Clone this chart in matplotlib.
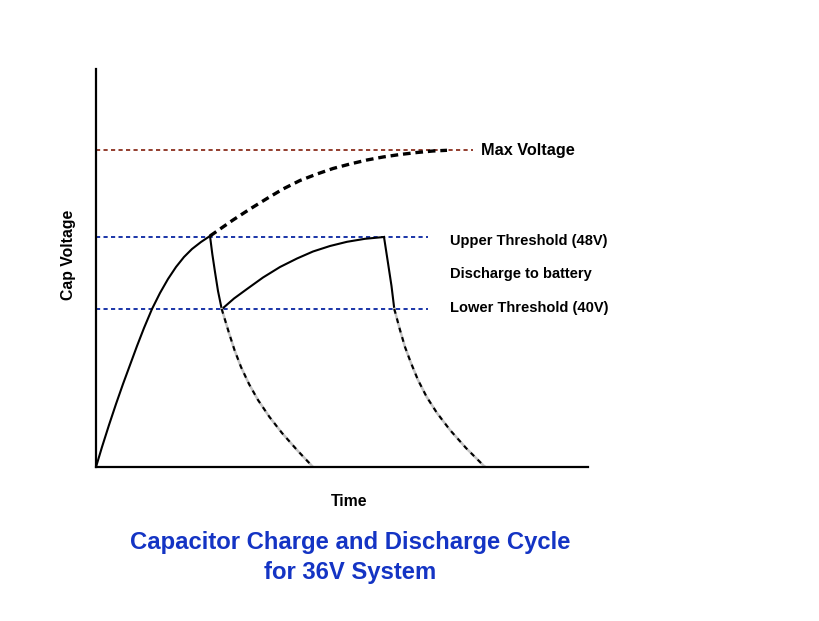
import matplotlib
matplotlib.use("Agg")
from matplotlib import pyplot as plt

plt.rcParams['font.family'] = ['Liberation Sans', 'DejaVu Sans']
plt.rcParams['lines.scale_dashes'] = False

# values (arbitrary units, time / cap voltage)
charge_t = [0, 6, 13, 20, 27, 34, 41, 48, 56, 64, 72, 80, 88, 96, 105, 114]
charge_v = [0, 20, 42, 63, 83, 102, 121, 139, 158, 174, 188, 200, 210, 218, 225, 231]

to_max_t = [114, 137, 154, 171, 187, 204, 221, 237, 254, 271, 287, 304, 321, 337, 351]
to_max_v = [231, 247, 258, 268.5, 278, 286.5, 293, 298.5, 303, 307, 310, 312.5, 314.5, 316, 316.7]

recharge_t = [126, 138, 151, 167, 184, 201, 217, 234, 251, 269, 288]
recharge_v = [158, 168.5, 178, 189.5, 200, 208.5, 215.5, 221, 225.2, 228.2, 230]

drop1_t = [114, 116.3, 119, 122, 125.7]
drop1_v = [231, 213, 195, 176, 158]
tail1_t = [125.7, 133, 138.5, 145, 153, 162, 173.5, 186, 201, 217]
tail1_v = [158, 134, 117, 100, 83, 67, 50, 34, 17, 0]

drop2_t = [288, 290, 292, 295.5, 298.3]
drop2_v = [230, 217, 204, 181, 158]
tail2_t = [298.3, 304, 309, 315, 322, 330.7, 341, 354, 370, 389]
tail2_v = [158, 137, 120, 104, 87, 70, 54, 37, 19, 0]

max_v = 317
upper_v = 230
lower_v = 158

W, H = 820, 621
fig = plt.figure(figsize=(W / 100, H / 100), dpi=100)
ax = fig.add_axes([96 / W, (H - 467) / H, (588 - 96) / W, (467 - 69) / H])
ax.set_xlim(0, 492)
ax.set_ylim(0, 398)

# reference lines
ax.plot([0, 377], [max_v, max_v], color='#8a2e1e', lw=1.3, dashes=(3, 2.4))
ax.plot([0, 332], [upper_v, upper_v], color='#1a35a8', lw=1.4, dashes=(3, 2.4))
ax.plot([0, 332], [lower_v, lower_v], color='#1a35a8', lw=1.4, dashes=(3, 2.4))

# charge curve
ax.plot(charge_t, charge_v, color='black', lw=1.5, solid_joinstyle='round')
ax.plot(to_max_t, to_max_v, color='black', lw=2.4, dashes=(5.5, 3.5))

# recharge between thresholds
ax.plot(recharge_t, recharge_v, color='black', lw=1.5, solid_joinstyle='round')

# discharge curves
for dt, dv, tt, tv in [(drop1_t, drop1_v, tail1_t, tail1_v),
                       (drop2_t, drop2_v, tail2_t, tail2_v)]:
    ax.plot(dt, dv, color='black', lw=1.5, solid_joinstyle='round')
    ax.plot(tt, tv, color='#c4c4c4', lw=1.8, solid_joinstyle='round')
    ax.plot(tt, tv, color='black', lw=1.5, dashes=(3.5, 3.5))

for s in ['top', 'right']:
    ax.spines[s].set_visible(False)
for s in ['left', 'bottom']:
    ax.spines[s].set_linewidth(1.6)
ax.set_xticks([])
ax.set_yticks([])

ax.text(385, max_v, "Max Voltage", fontsize=11.7, fontweight='bold', va='center', ha='left')
ax.text(354, 226, "Upper Threshold (48V)", fontsize=10.5, fontweight='bold', va='center', ha='left')
ax.text(354, 193, "Discharge to battery", fontsize=10.5, fontweight='bold', va='center', ha='left')
ax.text(354, 159, "Lower Threshold (40V)", fontsize=10.5, fontweight='bold', va='center', ha='left')

fig.text(68 / W, 1 - 255 / H, "Cap Voltage", rotation=90, fontsize=11.3, fontweight='bold',
         ha='center', va='center')
fig.text(349 / W, 1 - 502 / H, "Time", fontsize=11.3, fontweight='bold', ha='center', va='center')
fig.text(350 / W, 1 - 542 / H, "Capacitor Charge and Discharge Cycle",
         fontsize=17.2, fontweight='bold', color='#1434c4', ha='center', va='center')
fig.text(350 / W, 1 - 572 / H, "for 36V System",
         fontsize=17.2, fontweight='bold', color='#1434c4', ha='center', va='center')

fig.savefig("out.png", dpi=100)
